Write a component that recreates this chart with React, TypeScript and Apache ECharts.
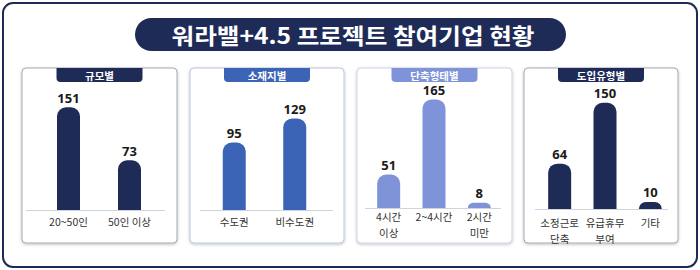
import React, { useEffect, useRef } from "react";
import * as echarts from "echarts";

// ---- data ----
const panelTitles = ["규모별", "소재지별", "단축형태별", "도입유형별"];
const sizeCategories = ["20~50인", "50인 이상"];
const sizeValues = [151, 73];
const regionCategories = ["수도권", "비수도권"];
const regionValues = [95, 129];
const reductionCategories = ["4시간\n이상", "2~4시간", "2시간\n미만"];
const reductionValues = [51, 165, 8];
const typeCategories = ["소정근로\n단축", "유급휴무\n부여", "기타"];
const typeValues = [64, 150, 10];
const chartTitle = "워라밸+4.5 프로젝트 참여기업 현황";

// ---- styles / layout ----
const NAVY = "#1e2b57";
const BLUE = "#3b63b6";
const LAVENDER = "#7f93d8";
const FONT = "'Noto Sans CJK KR', 'Noto Sans', sans-serif";

const panels = [
  { x: 22, w: 155, color: NAVY, border: "#a4a9b4", cats: sizeCategories, vals: sizeValues, grid: { left: 38, width: 122, top: 95, height: 115 }, max: 169, margin: 4, line: [26, 165] },
  { x: 190, w: 154, color: BLUE, border: "#b9c6e2", cats: regionCategories, vals: regionValues, grid: { left: 204, width: 121, top: 95, height: 115 }, max: 162, margin: 4, line: [200, 333] },
  { x: 357, w: 155, color: LAVENDER, border: "#cdd5ea", cats: reductionCategories, vals: reductionValues, grid: { left: 366, width: 136, top: 95, height: 113 }, max: 172, margin: 1, line: [365, 501] },
  { x: 524, w: 154, color: NAVY, border: "#a4a9b4", cats: typeCategories, vals: typeValues, grid: { left: 537, width: 136, top: 95, height: 114 }, max: 161, margin: 6, line: [535, 668] },
];
const PANEL_TOP = 68;
const PANEL_BOTTOM = 243;
const TAB_W = 86;
const TAB_H = 14;

export default function App() {
  const ref = useRef<HTMLDivElement>(null);
  useEffect(() => {
    if (!ref.current) return;
    const chart = echarts.init(ref.current, null, { renderer: "svg" });

    const graphics: any[] = [
      {
        type: "rect",
        shape: { x: 3, y: 3, width: 694, height: 264, r: 10 },
        style: { fill: "#ffffff", stroke: NAVY, lineWidth: 2 },
        z: -10,
      },
      {
        type: "rect",
        shape: { x: 135, y: 18, width: 431, height: 33, r: 16.5 },
        style: { fill: NAVY },
        z: -5,
      },
      {
        type: "text",
        x: 353,
        y: 35,
        scaleX: 1.12,
        style: {
          text: chartTitle,
          fill: "#ffffff",
          fontSize: 22,
          fontWeight: "bold",
          fontFamily: FONT,
          align: "center",
          verticalAlign: "middle",
        },
        z: -4,
      },
    ];

    panels.forEach((p, i) => {
      graphics.push({
        type: "rect",
        shape: { x: p.x, y: PANEL_TOP, width: p.w, height: PANEL_BOTTOM - PANEL_TOP, r: 4 },
        style: {
          fill: "#ffffff",
          stroke: p.border,
          lineWidth: 1,
          shadowBlur: 3,
          shadowOffsetY: 1,
          shadowColor: "rgba(0,0,0,0.25)",
        },
        z: -8,
      });
      const cx = p.x + p.w / 2;
      graphics.push({
        type: "rect",
        shape: { x: cx - TAB_W / 2, y: PANEL_TOP, width: TAB_W, height: TAB_H, r: [0, 0, 4, 4] },
        style: { fill: p.color },
        z: -7,
      });
      graphics.push({
        type: "text",
        x: cx,
        y: PANEL_TOP + TAB_H / 2,
        style: {
          text: panelTitles[i],
          fill: "#ffffff",
          fontSize: 10.5,
          lineHeight: 11,
          fontWeight: "bold",
          fontFamily: FONT,
          align: "center",
          verticalAlign: "middle",
        },
        z: -6,
      });
      const axisY = p.grid.top + p.grid.height;
      graphics.push({
        type: "line",
        shape: { x1: p.line[0], y1: axisY + 0.5, x2: p.line[1], y2: axisY + 0.5 },
        style: { stroke: "#cfd3dc", lineWidth: 1 },
        z: -6,
      });
    });

    chart.setOption({
      animation: false,
      graphic: { elements: graphics },
      grid: panels.map((p) => ({ ...p.grid, containLabel: false })),
      xAxis: panels.map((p, i) => ({
        type: "category",
        gridIndex: i,
        data: p.cats,
        axisLine: { show: false },
        axisTick: { show: false },
        axisLabel: {
          color: "#333333",
          fontSize: 10.5,
          lineHeight: 15.5,
          fontFamily: FONT,
          margin: p.margin,
          interval: 0,
        },
      })),
      yAxis: panels.map((p, i) => ({
        type: "value",
        gridIndex: i,
        min: 0,
        max: p.max,
        show: false,
        splitLine: { show: false },
      })),
      series: panels.map((p, i) => ({
        type: "bar",
        xAxisIndex: i,
        yAxisIndex: i,
        data: p.vals,
        barWidth: 23,
        itemStyle: { color: p.color, borderRadius: [9, 9, 0, 0] },
        label: {
          show: true,
          position: "top",
          distance: 3,
          color: "#1a1a1a",
          fontSize: 13,
          lineHeight: 13,
          fontWeight: "bold",
          fontFamily: "'Noto Sans', sans-serif",
        },
      })),
    });

    return () => chart.dispose();
  }, []);

  return (
    <div
      ref={ref}
      style={{ position: "fixed", left: 0, top: 0, width: 700, height: 270, background: "#ffffff" }}
    />
  );
}
